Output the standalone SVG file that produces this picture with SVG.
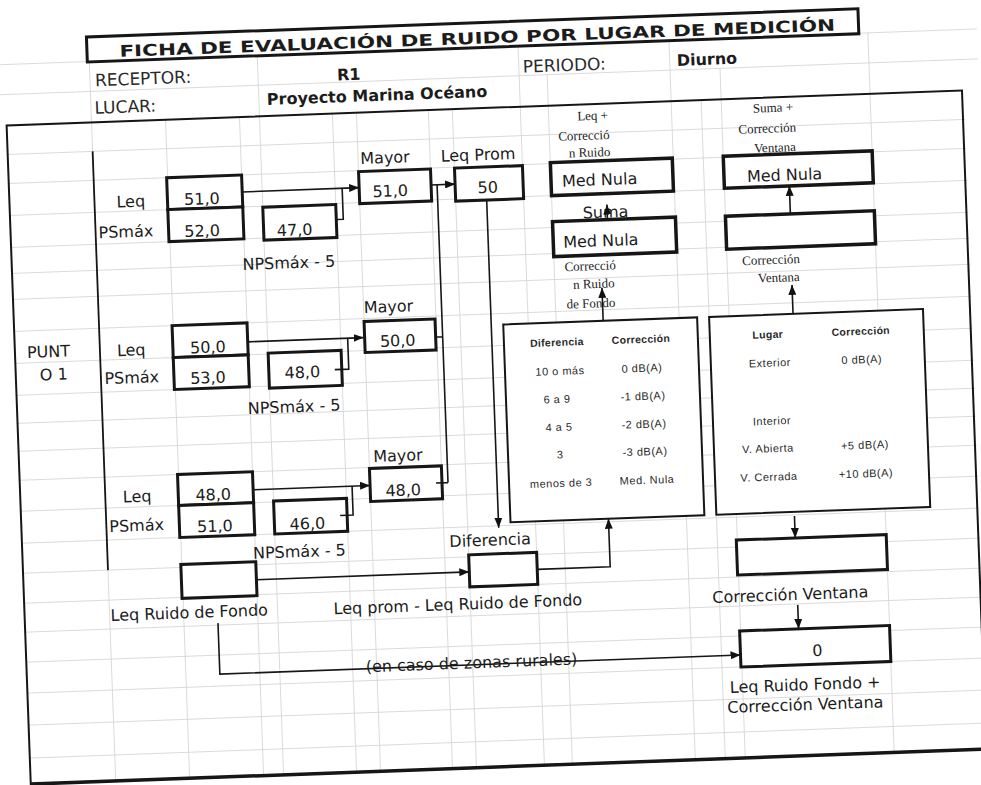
<svg xmlns="http://www.w3.org/2000/svg" width="981" height="785" viewBox="0 0 981 785">
<defs>
<marker id="ah" viewBox="0 0 10 8" refX="10" refY="4" markerWidth="10" markerHeight="8" markerUnits="userSpaceOnUse" orient="auto"><path d="M0,0 L10,4 L0,8 z" fill="#111"/></marker>
</defs>
<style>
.grid{stroke:#d6d6d6;stroke-width:0.9;fill:none}
.box{fill:#fff;stroke:#161616;stroke-width:3}
.tbl{fill:#fff;stroke:#161616;stroke-width:2}
.frame{fill:none;stroke:#161616;stroke-width:2}
.ln{stroke:#161616;stroke-width:1.6;fill:none}
.arr{stroke:#161616;stroke-width:1.6;fill:none;marker-end:url(#ah)}
.t{font-family:"DejaVu Sans",Verdana,sans-serif;font-size:16px;fill:#1c1c1c}
.h{font-family:"DejaVu Sans",Verdana,sans-serif;font-size:17px;fill:#2a2a2a}
.b{font-weight:bold}
.m{text-anchor:middle}
.s{font-family:"Liberation Serif","Times New Roman",serif;font-size:13px;fill:#222;text-anchor:middle}
.tt{font-family:"Liberation Sans",Arial,sans-serif;font-size:11px;letter-spacing:0.5px;fill:#2a2a2a;text-anchor:middle}
.th{font-family:"Liberation Sans",Arial,sans-serif;font-size:10.5px;letter-spacing:0.3px;font-weight:bold;fill:#2a2a2a;text-anchor:middle}
</style>
<rect x="0" y="0" width="981" height="785" fill="#fff"/>
<g transform="rotate(-2.1 490 400)">
<g id="grid" class="grid">
<path d="M0,47 H990 M0,77 H990 M17,137 H975 M17,166 H975 M17,198 H975 M17,230 H975 M17,256 H975 M17,282 H975 M17,314 H975 M17,346 H975 M17,378 H975 M17,406 H975 M17,434 H975 M17,463 H975 M17,494 H975 M17,526 H975 M17,556 H975 M17,586 H975 M17,615 H975 M17,645 H975 M17,676 H975 M17,708 H975 M17,741 H975"/>
<path d="M102,47 V767 M270,47 V767 M531,47 V767 M682,47 V767 M881,47 V767 M559,77 V767 M732,77 V767 M176,108 V767 M250,108 V767 M343,108 V767 M367,108 V767 M439,108 V767 M463,108 V767 M712,108 V767"/>
</g>
<g id="frame">
<rect class="frame" x="17" y="108" width="956" height="659"/>
<path class="ln" d="M17,767 H973" style="stroke-width:3.5"/>
<path class="ln" d="M102,137 V556" style="stroke-width:1.8"/>
</g>
<g id="title">
<rect x="100" y="22.5" width="772" height="25" fill="#fff" stroke="#161616" stroke-width="3"/>
<text class="t b" x="132.5" y="43.5" font-size="20.5" textLength="716" lengthAdjust="spacingAndGlyphs" fill="#111">FICHA DE EVALUACIÓN DE RUIDO POR LUGAR DE MEDICIÓN</text>
</g>
<g id="header">
<text class="h" x="107" y="72">RECEPTOR:</text>
<text class="t b" x="349" y="75">R1</text>
<text class="h" x="535" y="74">PERIODO:</text>
<text class="t b" x="689" y="73">Diurno</text>
<text class="h" x="105.5" y="99.5">LUCAR:</text>
<text class="t b" x="278" y="97" font-size="16.5">Proyecto Marina Océano</text>
</g>
<g id="punto">
<text class="t" x="29" y="341" font-size="16.5">PUNT</text>
<text class="t" x="41" y="364" font-size="16.5">O 1</text>
</g>
<g id="row1">
<text class="t" x="124" y="194">Leq</text>
<text class="t" x="105" y="224">PSmáx</text>
<rect class="box" x="175" y="166" width="75" height="32"/>
<rect class="box" x="175" y="198" width="75" height="32"/>
<text class="t m" x="209.5" y="194">51,0</text>
<text class="t m" x="208.5" y="226">52,0</text>
<rect class="box" x="270" y="199" width="73" height="33"/>
<text class="t m" x="301" y="228.5">47,0</text>
<text class="t m" x="294" y="261">NPSmáx - 5</text>
</g>
<g id="mayor1">
<text class="t m" x="394" y="159.5">Mayor</text>
<rect class="box" x="367" y="167" width="72" height="32"/>
<text class="t m" x="398" y="193">51,0</text>
</g>
<g id="leqprom">
<text class="t m" x="487" y="160">Leq Prom</text>
<rect class="box" x="463" y="167" width="68" height="33"/>
<text class="t m" x="495.5" y="193">50</text>
</g>
<g id="row2">
<text class="t" x="119" y="342.5">Leq</text>
<text class="t" x="105.5" y="370">PSmáx</text>
<rect class="box" x="175" y="314" width="75" height="32"/>
<rect class="box" x="175" y="346" width="75" height="32"/>
<text class="t m" x="210" y="342.5">50,0</text>
<text class="t m" x="209" y="373">53,0</text>
<rect class="box" x="270" y="345" width="73" height="35"/>
<text class="t m" x="303.5" y="371">48,0</text>
<text class="t m" x="294" y="405">NPSmáx - 5</text>
</g>
<g id="mayor2">
<text class="t m" x="392" y="308.5">Mayor</text>
<rect class="box" x="367" y="317" width="71" height="31"/>
<text class="t m" x="400" y="343">50,0</text>
</g>
<g id="row3">
<text class="t" x="119.5" y="489">Leq</text>
<text class="t" x="105" y="518">PSmáx</text>
<rect class="box" x="175" y="463" width="75" height="31"/>
<rect class="box" x="175" y="494" width="75" height="32"/>
<text class="t m" x="210" y="490">48,0</text>
<text class="t m" x="210.5" y="521.5">51,0</text>
<rect class="box" x="270" y="493" width="73" height="33"/>
<text class="t m" x="303" y="522.5">46,0</text>
<text class="t m" x="294" y="550">NPSmáx - 5</text>
</g>
<g id="mayor3">
<text class="t m" x="396" y="457.7">Mayor</text>
<rect class="box" x="367" y="464" width="72" height="33"/>
<text class="t m" x="400" y="492.5">48,0</text>
</g>
<g id="ruidofondo">
<rect class="box" x="175" y="553" width="75" height="34"/>
<text class="t" x="103" y="607">Leq Ruido de Fondo</text>
</g>
<g id="diferencia">
<text class="t m" x="485" y="545.5">Diferencia</text>
<rect class="box" x="463" y="554" width="68" height="32"/>
<text class="t" x="326" y="608.5">Leq prom - Leq Ruido de Fondo</text>
</g>
<g id="leqcorr">
<text class="s" x="603" y="124">Leq +</text>
<text class="s" x="593.5" y="143.5">Correcció</text>
<text class="s" x="598.5" y="160.5">n Ruido</text>
<rect class="box" x="559" y="165" width="122" height="33" style="stroke-width:3.5"/>
<text class="t" x="570" y="189.5" font-size="16.5">Med Nula</text>
</g>
<g id="suma">
<rect class="box" x="559" y="224" width="123" height="35" style="stroke-width:3.5"/>
<text class="t" x="569" y="250.5" font-size="16.5">Med Nula</text>
<text class="t" x="589.5" y="222" font-size="16.5">Suma</text>
<text class="s" x="595" y="274">Correcció</text>
<text class="s" x="598" y="292">n Ruido</text>
<text class="s" x="594.5" y="311.5">de Fondo</text>
</g>
<g id="sumacorr">
<text class="s" x="783.5" y="122.5">Suma +</text>
<text class="s" x="777" y="143">Corrección</text>
<text class="s" x="784" y="162.5">Ventana</text>
<rect class="box" x="732" y="165" width="149" height="32" style="stroke-width:3.5"/>
<text class="t" x="755" y="191.5" font-size="16.5">Med Nula</text>
</g>
<g id="corrventana">
<rect class="box" x="732" y="225" width="149" height="33" style="stroke-width:3.5"/>
<text class="s" x="776" y="274.5">Corrección</text>
<text class="s" x="783" y="292.5">Ventana</text>
</g>
<g id="tabla-ruido">
<rect class="tbl" x="506" y="325" width="194" height="198"/>
<text class="th" x="559" y="348.5">Diferencia</text>
<text class="th" x="643" y="348.5">Corrección</text>
<text class="tt" x="561" y="377.5">10 o más</text>
<text class="tt" x="643" y="377.5">0 dB(A)</text>
<text class="tt" x="557" y="405.5">6 a 9</text>
<text class="tt" x="643" y="405.5">-1 dB(A)</text>
<text class="tt" x="558" y="433.5">4 a 5</text>
<text class="tt" x="643" y="433.5">-2 dB(A)</text>
<text class="tt" x="558" y="461">3</text>
<text class="tt" x="643" y="461">-3 dB(A)</text>
<text class="tt" x="558" y="489.5">menos de 3</text>
<text class="tt" x="644" y="489.5">Med. Nula</text>
</g>
<g id="tabla-ventana">
<rect class="tbl" x="712" y="325" width="214" height="198"/>
<text class="th" x="770" y="348.5">Lugar</text>
<text class="th" x="863" y="348.5">Corrección</text>
<text class="tt" x="771" y="377">Exterior</text>
<text class="tt" x="863" y="377">0 dB(A)</text>
<text class="tt" x="771" y="435">Interior</text>
<text class="tt" x="766" y="462.5">V. Abierta</text>
<text class="tt" x="863" y="462.5">+5 dB(A)</text>
<text class="tt" x="766" y="491">V. Cerrada</text>
<text class="tt" x="863" y="491">+10 dB(A)</text>
</g>
<g id="cv-box">
<rect class="box" x="731" y="549" width="150" height="35"/>
<text class="t m" x="783" y="611">Corrección Ventana</text>
</g>
<g id="fondo-corr">
<rect class="box" x="731" y="640" width="150" height="36"/>
<text class="t m" x="808" y="668">0</text>
<text class="t m" x="794.5" y="701.5">Leq Ruido Fondo +</text>
<text class="t m" x="794" y="721.5">Corrección Ventana</text>
</g>
<g id="connectors">
<path class="arr" d="M250,183 H367"/>
<path class="ln" d="M343,214 H350 V183"/>
<path class="arr" d="M250,333 H366"/>
<path class="ln" d="M336,364 H350 V333"/>
<path class="arr" d="M250,481 H367"/>
<path class="ln" d="M336,510 H349 V481"/>
<path class="arr" d="M439,183 H463"/>
<path class="ln" d="M445,183 V481 M438,335 H445 M433,481 H445"/>
<path class="arr" d="M494,200 V528"/>
<path class="arr" d="M250,571 H463"/>
<path class="arr" d="M531,571 H604 V523"/>
<path class="arr" d="M606,325 V292"/>
<path class="arr" d="M614,224 V209"/>
<path class="arr" d="M796,325 V296"/>
<path class="arr" d="M797,225 V197"/>
<path class="arr" d="M790,527 V549"/>
<path class="arr" d="M790,616 V640"/>
<path class="arr" d="M210,613 V664 H731"/>
</g>
<text class="t" x="356" y="667.5" font-size="17">(en caso de zonas rurales)</text>
</g>
</svg>
